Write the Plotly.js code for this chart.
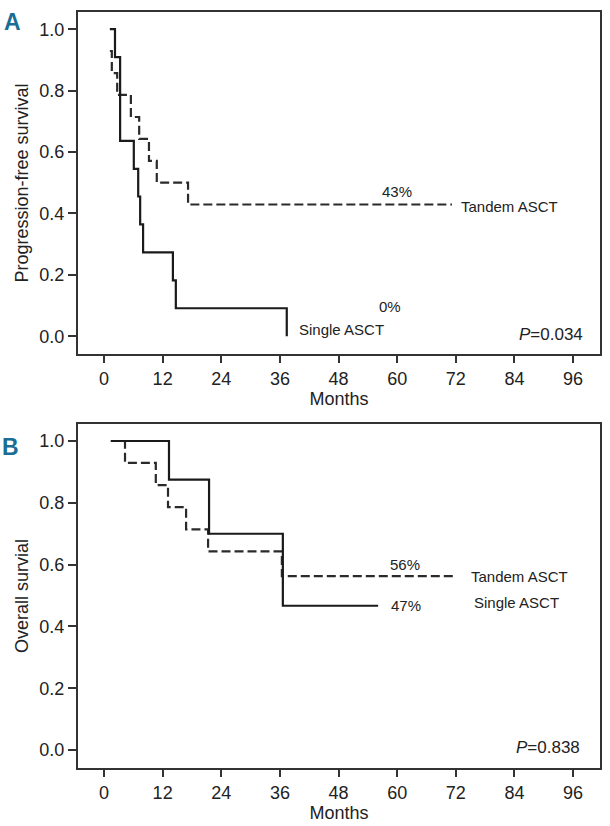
<!DOCTYPE html>
<html>
<head>
<meta charset="utf-8">
<script src="https://cdn.plot.ly/plotly-3.0.1.min.js"></script>
<style>html,body{margin:0;padding:0;background:#fff;}#chart{width:610px;height:826px;}</style>
</head>
<body>
<div id="chart"></div>
<script>
// Panel A: progression-free survival (Kaplan-Meier steps)
const pfsSingleMonths = [1.2, 2.25, 3.3, 6.1, 7.0, 7.4, 8.0, 14.1, 14.7, 37.4];
const pfsSingleSurv   = [1.0, 0.909, 0.636, 0.545, 0.455, 0.364, 0.273, 0.182, 0.091, 0.0];
const pfsTandemMonths = [1.2, 1.6, 2.7, 5.5, 7.2, 9.2, 10.8, 17.2, 71.2];
const pfsTandemSurv   = [0.929, 0.857, 0.786, 0.714, 0.643, 0.571, 0.5, 0.429, 0.429];

// Panel B: overall survival
const osSingleMonths = [1.4, 13.3, 21.5, 36.6, 56.1];
const osSingleSurv   = [1.0, 0.875, 0.70, 0.467, 0.467];
const osTandemMonths = [1.4, 4.3, 10.6, 13.1, 16.8, 21.3, 36.4, 71.4];
const osTandemSurv   = [1.0, 0.929, 0.857, 0.786, 0.714, 0.643, 0.563, 0.563];

const xTickVals = [0, 12, 24, 36, 48, 60, 72, 84, 96];
const yTickVals = [0, 0.2, 0.4, 0.6, 0.8, 1.0];
const yTickText = ['0.0', '0.2', '0.4', '0.6', '0.8', '1.0'];

const FONT = "'Liberation Sans Narrow', 'Liberation Sans', Arial, sans-serif";
const INK = '#1a1a1a';

const solidLine = {color: INK, width: 2.2, shape: 'hv'};
const dashLine = {color: '#2a2a2a', width: 2.2, shape: 'hv', dash: '9px,4px'};

const traces = [
  {x: pfsTandemMonths, y: pfsTandemSurv, xaxis: 'x2', yaxis: 'y2', mode: 'lines', line: dashLine, name: 'Tandem ASCT'},
  {x: pfsSingleMonths, y: pfsSingleSurv, xaxis: 'x2', yaxis: 'y2', mode: 'lines', line: solidLine, name: 'Single ASCT'},
  {x: osTandemMonths, y: osTandemSurv, xaxis: 'x', yaxis: 'y', mode: 'lines', line: dashLine, name: 'Tandem ASCT'},
  {x: osSingleMonths, y: osSingleSurv, xaxis: 'x', yaxis: 'y', mode: 'lines', line: solidLine, name: 'Single ASCT'}
];

const xCommon = {
  range: [-5.32, 101.5], tickvals: xTickVals, ticktext: xTickVals.map(String),
  ticks: 'outside', ticklen: 7, tickwidth: 2, tickcolor: '#333',
  showline: true, linecolor: '#333', linewidth: 2, mirror: true,
  showgrid: false, zeroline: false, fixedrange: true,
  tickfont: {family: FONT, size: 18, color: '#222'},
  title: {text: 'Months', font: {family: FONT, size: 18, color: '#222'}, standoff: 2}
};
const yCommon = {
  tickvals: yTickVals, ticktext: yTickText,
  ticks: 'outside', ticklen: 8, tickwidth: 2, tickcolor: '#333',
  showline: true, linecolor: '#333', linewidth: 2, mirror: true,
  showgrid: false, zeroline: false, fixedrange: true,
  tickfont: {family: FONT, size: 18, color: '#222'}
};

const txt = (s) => ({family: FONT, size: s, color: '#222'});

const layout = {
  width: 610, height: 826,
  margin: {l: 78, r: 10, t: 12, b: 58},
  paper_bgcolor: '#fff', plot_bgcolor: '#fff',
  showlegend: false,
  xaxis: Object.assign({}, xCommon, {anchor: 'y', domain: [0, 1]}),
  yaxis: Object.assign({}, yCommon, {anchor: 'x', domain: [0, 0.455], range: [-0.058, 1.055],
    title: {text: 'Overall survial', font: {family: FONT, size: 18, color: '#222'}, standoff: 6}}),
  xaxis2: Object.assign({}, xCommon, {anchor: 'y2', domain: [0, 1]}),
  yaxis2: Object.assign({}, yCommon, {anchor: 'x2', domain: [0.5476, 1], range: [-0.058, 1.056],
    title: {text: 'Progression-free survival', font: {family: FONT, size: 18, color: '#222'}, standoff: 6}}),
  annotations: [
    {xref: 'paper', yref: 'paper', x: -0.126, y: 0.987, text: '<b>A</b>', showarrow: false,
      xanchor: 'center', yanchor: 'middle', font: {family: FONT, size: 23, color: '#1c6d96'}},
    {xref: 'paper', yref: 'paper', x: -0.13, y: 0.4246, text: '<b>B</b>', showarrow: false,
      xanchor: 'center', yanchor: 'middle', font: {family: FONT, size: 23, color: '#1c6d96'}},
    {xref: 'x2', yref: 'y2', x: 60.0, y: 0.471, text: '43%', showarrow: false, xanchor: 'center', yanchor: 'middle', font: txt(15)},
    {xref: 'x2', yref: 'y2', x: 72.7, y: 0.423, text: 'Tandem ASCT', showarrow: false, xanchor: 'left', yanchor: 'middle', font: txt(15)},
    {xref: 'x2', yref: 'y2', x: 58.5, y: 0.098, text: '0%', showarrow: false, xanchor: 'center', yanchor: 'middle', font: txt(15)},
    {xref: 'x2', yref: 'y2', x: 39.5, y: 0.023, text: 'Single ASCT', showarrow: false, xanchor: 'left', yanchor: 'middle', font: txt(15)},
    {xref: 'x2', yref: 'y2', x: 98.5, y: 0.007, text: '<i>P</i>=0.034', showarrow: false, xanchor: 'right', yanchor: 'middle', font: txt(17)},
    {xref: 'x', yref: 'y', x: 61.6, y: 0.599, text: '56%', showarrow: false, xanchor: 'center', yanchor: 'middle', font: txt(15)},
    {xref: 'x', yref: 'y', x: 74.7, y: 0.563, text: 'Tandem ASCT', showarrow: false, xanchor: 'left', yanchor: 'middle', font: txt(15)},
    {xref: 'x', yref: 'y', x: 61.8, y: 0.469, text: '47%', showarrow: false, xanchor: 'center', yanchor: 'middle', font: txt(15)},
    {xref: 'x', yref: 'y', x: 75.3, y: 0.476, text: 'Single ASCT', showarrow: false, xanchor: 'left', yanchor: 'middle', font: txt(15)},
    {xref: 'x', yref: 'y', x: 97.8, y: 0.0097, text: '<i>P</i>=0.838', showarrow: false, xanchor: 'right', yanchor: 'middle', font: txt(17)}
  ]
};

Plotly.newPlot('chart', traces, layout, {displayModeBar: false, staticPlot: true});
</script>
</body>
</html>
